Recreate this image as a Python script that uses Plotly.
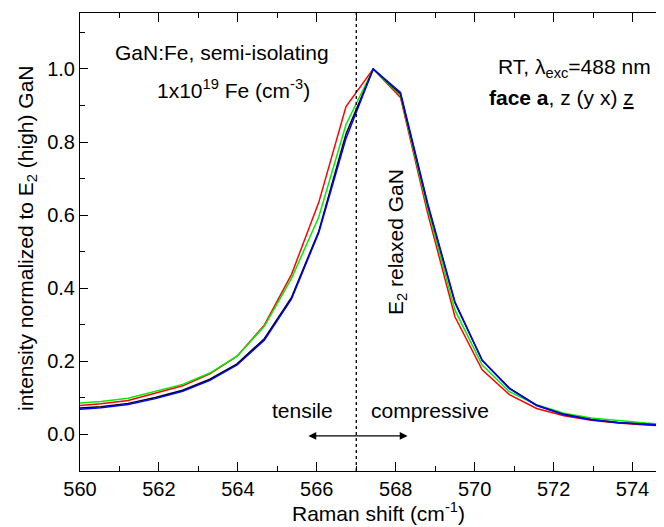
import plotly.graph_objects as go

# Raman shift axis (cm^-1), common to all spectra
shift = [559.84, 560.53, 561.22, 561.91, 562.60, 563.29, 563.98, 564.67,
         565.36, 566.05, 566.74, 567.43, 568.12, 568.81, 569.50, 570.19,
         570.88, 571.57, 572.26, 572.95, 573.64, 574.33, 575.02]

# normalized intensities
red = [0.078, 0.084, 0.093, 0.112, 0.133, 0.166, 0.214, 0.299, 0.438, 0.635,
       0.897, 1.000, 0.922, 0.605, 0.322, 0.177, 0.109, 0.071, 0.051, 0.039,
       0.031, 0.026, 0.022]
green = [0.085, 0.090, 0.099, 0.118, 0.137, 0.168, 0.214, 0.296, 0.427, 0.595,
         0.848, 1.000, 0.928, 0.617, 0.340, 0.190, 0.117, 0.081, 0.058, 0.045,
         0.037, 0.031, 0.027]
black = [0.071, 0.076, 0.085, 0.101, 0.121, 0.151, 0.193, 0.262, 0.375, 0.556,
         0.822, 1.000, 0.932, 0.628, 0.360, 0.203, 0.127, 0.080, 0.055, 0.041,
         0.033, 0.028, 0.024]
blue = [0.068, 0.073, 0.082, 0.098, 0.118, 0.148, 0.190, 0.258, 0.371, 0.552,
        0.810, 1.000, 0.936, 0.632, 0.363, 0.203, 0.125, 0.079, 0.054, 0.040,
        0.032, 0.027, 0.023]

SERIES = [("red", red), ("#00ee00", green), ("black", black), ("blue", blue)]

RELAXED_E2 = 567.0          # E2 (high) of relaxed GaN
ARROW = [565.75, 568.3]     # tensile <-> compressive arrow ends
FONT = "Liberation Sans, Arial, sans-serif"

W, H = 664, 527
L, R, T, B = 72, 0, 5, 64

fig = go.Figure()
for color, y in SERIES:
    fig.add_trace(go.Scatter(x=shift, y=y, mode="lines",
                             line=dict(color=color, width=1.5),
                             showlegend=False))

fig.add_vline(x=RELAXED_E2, line=dict(color="black", width=1.3, dash="dot"))


def label(px, py, text, anchor="center", angle=0, size=21):
    # place a text by its pixel position in the picture
    fig.add_annotation(x=(px - L) / (W - L - R), y=1 - (py - T) / (H - T - B),
                       xref="paper", yref="paper", text=text, showarrow=False,
                       xanchor=anchor, yanchor="middle", textangle=angle,
                       font=dict(size=size))


label(214, 45, "GaN:Fe, semi-isolating")
label(225, 81, "1x10<sup>19</sup> Fe (cm<sup>-3</sup>)")
label(645, 60, "RT, λ<sub>exc</sub>=488 nm", anchor="right")
label(628, 90, "<b>face a</b>, z (y x) <u>z</u>", anchor="right")
label(389, 234, "E<sub>2</sub> relaxed GaN", angle=-90)
label(294, 402, "tensile")
label(422, 402, "compressive")

# axis titles
label(370, 504, "Raman shift (cm<sup>-1</sup>)")
label(19, 230, "intensity normalized to E<sub>2</sub> (high) GaN", angle=-90)

fig.add_annotation(x=ARROW[1], y=-0.004, ax=ARROW[0], ay=-0.004,
                   xref="x", yref="y", axref="x", ayref="y", text="",
                   showarrow=True, arrowside="end+start", arrowhead=2,
                   arrowsize=1.3, arrowwidth=1.2, arrowcolor="black")

fig.update_layout(
    width=W, height=H,
    margin=dict(l=L, r=R, t=T, b=B),
    plot_bgcolor="white", paper_bgcolor="white",
    font=dict(family=FONT, size=20, color="black"),
)
fig.update_xaxes(
    range=[560, 575], tick0=560, dtick=2, ticks="inside", ticklen=9,
    minor=dict(dtick=1, ticks="inside", ticklen=5, tickcolor="black"),
    showline=True, linecolor="black", linewidth=1, mirror="allticks",
    showgrid=False, zeroline=False, tickcolor="black", automargin=False,
)
fig.update_yaxes(
    range=[-0.1, 1.153], tick0=0, dtick=0.2, tickformat=".1f", ticks="inside", ticklen=8,
    minor=dict(dtick=0.1, ticks="inside", ticklen=5, tickcolor="black"),
    showline=True, linecolor="black", linewidth=1, mirror="allticks",
    showgrid=False, zeroline=False, tickcolor="black", automargin=False,
)

fig.write_html("out.html")
